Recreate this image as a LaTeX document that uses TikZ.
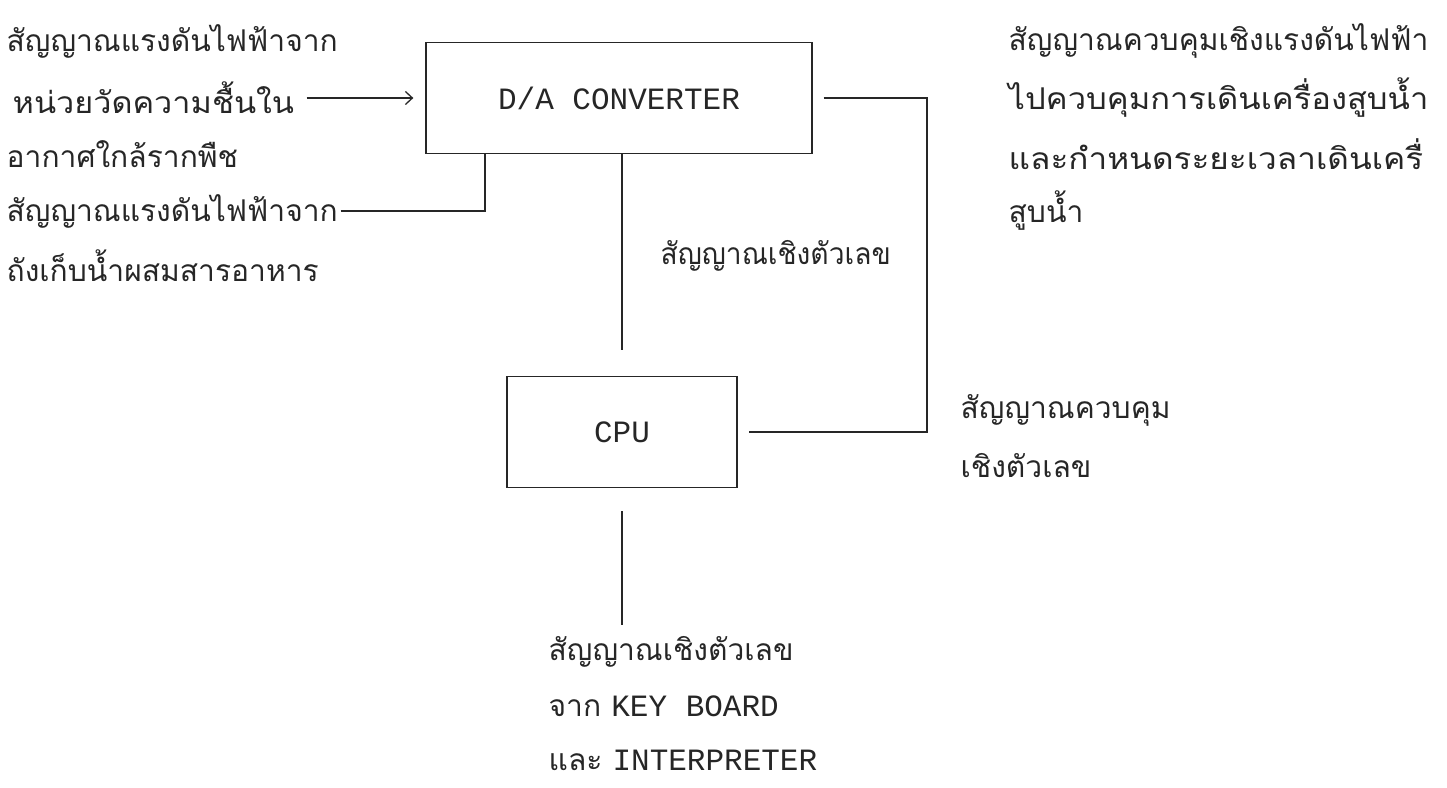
\documentclass[tikz,border=0pt]{standalone}
\usepackage{graphicx}
\usepackage{fontspec}
\setmainfont{Loma}
\newfontfamily\thai[Script=Thai]{Loma}
\newfontfamily\mono{Liberation Mono}
\newcommand{\mt}{\mono\fontsize{31}{36}\selectfont}
\newcommand{\wid}[2]{\scalebox{#1}[1]{#2}}
\usetikzlibrary{arrows.meta}
\begin{document}
\begin{tikzpicture}[x=1pt,y=-1pt,
  line width=1.3pt,
  wire/.style={draw=black!85, line width=1.3pt},
  th/.style={font=\thai\fontsize{30}{36}\selectfont, inner sep=0pt, anchor=west, text=black!85},
  blockbox/.style={draw=black!85, line width=1.3pt, inner sep=0pt, font=\mt, text=black!85}]
\useasboundingbox (0,0) rectangle (1447,787);

% blocks
\node[blockbox, minimum width=386pt, minimum height=111pt] (da) at (619,98) {D/A CONVERTER};
\node[blockbox, minimum width=230pt, minimum height=111pt] (cpu) at (622,432) {CPU};

% left labels
\node[th] (l1) at (6,41)  {สัญญาณแรงดันไฟฟ้าจาก};
\node[th] (l2) at (12,98) {\wid{1.08}{หน่วยวัดความชื้นใน}};
\node[th] (l3) at (6,154) {อากาศใกล้รากพืช};
\node[th] (l4) at (6,211) {สัญญาณแรงดันไฟฟ้าจาก};
\node[th] (l5) at (6,266) {ถังเก็บน้ำผสมสารอาหาร};

% right labels
\node[th] (r1) at (1008,41)  {สัญญาณควบคุมเชิงแรงดันไฟฟ้า};
\node[th] (r2) at (1008,98)  {\wid{1.09}{ไปควบคุมการเดินเครื่องสูบน้ำ}};
\node[th] (r3) at (1008,154) {\wid{1.11}{และกำหนดระยะเวลาเดินเครื่}};
\node[th] (r4) at (1008,211) {สูบน้ำ};

% middle label
\node[th] (m1) at (660,256) {\wid{0.94}{สัญญาณเชิงตัวเลข}};

% cpu right labels
\node[th] (c1) at (960,410) {สัญญาณควบคุม};
\node[th] (c2) at (960,466) {เชิงตัวเลข};

% bottom labels
\node[th] (b1) at (548,652) {สัญญาณเชิงตัวเลข};
\node[th] (b2) at (548,706) {จาก {\mt KEY BOARD}};
\node[th] (b3) at (548,760) {และ {\mt INTERPRETER}};

% coordinates
\coordinate (j1) at (485,154);
\coordinate (rc) at (927,432);
\coordinate (bt) at (622,625);

% connectors
\draw[wire, -{Straight Barb[length=7pt,width=13pt]}] ([xshift=12pt]l2.east) -- ([xshift=-12pt]da.west |- l2.east);
\draw[wire] ([xshift=2pt]l4.east) -| (j1);
\draw[wire] (da.south -| cpu.north) -- ([yshift=26pt]cpu.north);
\draw[wire] ([xshift=11pt]da.east) -| (rc) -- ([xshift=11pt]cpu.east);
\draw[wire] ([yshift=-23pt]cpu.south) -- (bt);
\end{tikzpicture}
\end{document}
